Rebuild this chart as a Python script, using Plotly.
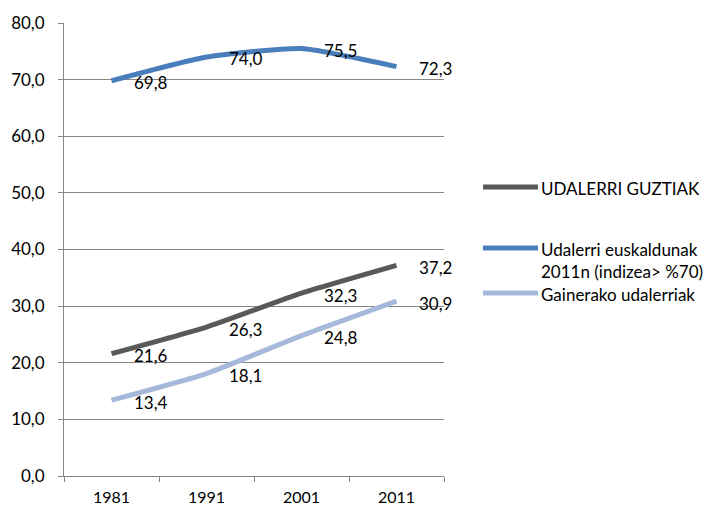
import plotly.graph_objects as go

# Census years and percentages per municipality group
years = ["1981", "1991", "2001", "2011"]
guztiak = [21.6, 26.3, 32.3, 37.2]
euskaldunak = [69.8, 74.0, 75.5, 72.3]
gainerakoak = [13.4, 18.1, 24.8, 30.9]

names = [
    "UDALERRI GUZTIAK",
    "Udalerri euskaldunak<br>2011n (indizea> %70)",
    "Gainerako udalerriak",
]
series = [guztiak, euskaldunak, gainerakoak]
colors = ["#595959", "#4A7EBB", "#A7B9DA"]

FONT = "Lato"
FSIZE = 17

W, H = 713, 509
L, R, T, B = 64, 444, 23, 476  # plot area in pixels


def px_x(p):
    return (p - L) / (R - L)


def px_y(p):
    return (B - p) / (B - T)


fig = go.Figure()
for vals, col in zip(series, colors):
    fig.add_trace(go.Scatter(
        x=years, y=vals, mode="lines",
        line=dict(color=col, width=5, shape="spline", smoothing=0.5),
        showlegend=False, hoverinfo="skip",
    ))

annotations = []
for vals in series:
    for i, v in enumerate(vals):
        # category axes take the serial index of the category
        annotations.append(dict(
            x=i, y=v, xref="x", yref="y",
            text=f"{v:.1f}".replace(".", ","),
            showarrow=False, xanchor="left", yanchor="middle",
            xshift=20, yshift=-2,
            font=dict(family=FONT, size=FSIZE, color="#000000"),
        ))

# Legend drawn beside the plot area
shapes = []
legend_rows = [187, 248, 293]
for name, col, ypx in zip(names, colors, legend_rows):
    shapes.append(dict(
        type="line", xref="paper", yref="paper",
        x0=px_x(483), x1=px_x(538), y0=px_y(ypx), y1=px_y(ypx),
        line=dict(color=col, width=5),
    ))
    annotations.append(dict(
        x=px_x(539), y=px_y(ypx - 11), xref="paper", yref="paper",
        text=name, showarrow=False, xanchor="left", yanchor="top",
        align="left",
        font=dict(family=FONT, size=FSIZE, color="#000000"),
    ))

fig.update_layout(
    width=W, height=H,
    margin=dict(l=L, r=W - R, t=T, b=H - B, pad=0),
    paper_bgcolor="white", plot_bgcolor="white",
    separators=", ",
    font=dict(family=FONT, size=FSIZE, color="#000000"),
    annotations=annotations,
    shapes=shapes,
    xaxis=dict(
        type="category", range=[-0.5, 3.5], automargin=False,
        showgrid=False, tickson="boundaries",
        ticks="outside", ticklen=5, tickcolor="#868686", tickwidth=1,
        showline=True, linecolor="#868686", linewidth=1,
        ticklabelstandoff=7,
        tickfont=dict(family=FONT, size=16),
        fixedrange=True,
    ),
    yaxis=dict(
        range=[0, 80], dtick=10, tickformat=".1f", automargin=False,
        showgrid=True, gridcolor="#868686", gridwidth=1,
        ticks="outside", ticklen=5, tickcolor="#868686", tickwidth=1,
        showline=True, linecolor="#868686", linewidth=1,
        zeroline=False,
        ticklabelstandoff=10,
        tickfont=dict(family=FONT, size=FSIZE),
        fixedrange=True,
    ),
)

fig.write_html("out.html")
